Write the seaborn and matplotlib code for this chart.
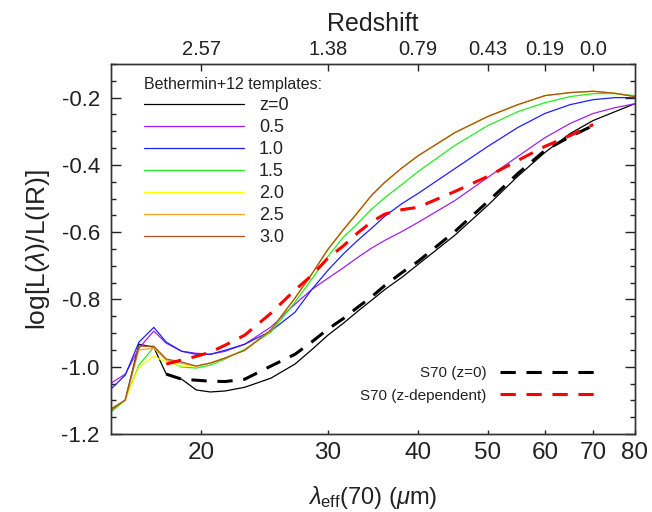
import numpy as np
import pandas as pd
import seaborn as sns
import matplotlib
matplotlib.use("Agg")
import matplotlib.pyplot as plt
from matplotlib.ticker import MultipleLocator, FormatStrFormatter, NullLocator

# ---------------- data ----------------
lam = [15.0, 15.7, 16.4, 17.2, 17.9, 18.8, 19.7, 20.6, 21.6, 23, 25, 27, 28.5, 30,
       31.5, 33, 34.5, 36, 38, 40, 45, 50, 55, 60, 65, 70, 75, 80]

tpl_z00 = [-1.126, -1.099, -0.933, -0.942, -1.022, -1.037, -1.069, -1.075, -1.072,
           -1.061, -1.034, -0.992, -0.949, -0.906, -0.871, -0.835, -0.802, -0.770,
           -0.734, -0.696, -0.609, -0.520, -0.434, -0.363, -0.307, -0.268, -0.242,
           -0.218]
tpl_z05 = [-1.049, -1.022, -0.945, -0.894, -0.930, -0.954, -0.960, -0.963, -0.954,
           -0.933, -0.882, -0.814, -0.770, -0.737, -0.706, -0.675, -0.647, -0.624,
           -0.598, -0.571, -0.506, -0.437, -0.375, -0.319, -0.277, -0.247, -0.230,
           -0.218]
tpl_z10 = [-1.066, -1.025, -0.927, -0.883, -0.927, -0.954, -0.963, -0.963, -0.951,
           -0.933, -0.894, -0.838, -0.770, -0.713, -0.665, -0.624, -0.588, -0.552,
           -0.515, -0.485, -0.411, -0.345, -0.289, -0.247, -0.221, -0.206, -0.200,
           -0.200]
tpl_z15 = [-1.135, -1.099, -0.995, -0.942, -0.980, -1.001, -1.004, -0.995, -0.977,
           -0.948, -0.897, -0.808, -0.739, -0.672, -0.615, -0.574, -0.531, -0.497,
           -0.458, -0.420, -0.342, -0.283, -0.242, -0.215, -0.197, -0.188, -0.188,
           -0.194]
tpl_z20 = [-1.129, -1.099, -1.001, -0.969, -0.986, -0.998, -0.998, -0.989, -0.974,
           -0.951, -0.891, -0.796, -0.724, -0.651, -0.593, -0.541, -0.490, -0.451,
           -0.409, -0.373, -0.304, -0.256, -0.221, -0.194, -0.185, -0.181, -0.187,
           -0.197]
tpl_z25 = [-1.129, -1.099, -0.950, -0.945, -0.980, -0.990, -0.998, -0.989, -0.974,
           -0.951, -0.891, -0.796, -0.724, -0.651, -0.593, -0.541, -0.490, -0.451,
           -0.409, -0.373, -0.304, -0.256, -0.221, -0.194, -0.185, -0.181, -0.187,
           -0.197]
tpl_z30 = [-1.129, -1.099, -0.939, -0.939, -0.977, -0.986, -0.998, -0.989, -0.974,
           -0.951, -0.891, -0.796, -0.724, -0.651, -0.593, -0.541, -0.490, -0.451,
           -0.409, -0.373, -0.304, -0.256, -0.221, -0.194, -0.185, -0.181, -0.187,
           -0.197]

tpl_labels = ["z=0", "0.5", "1.0", "1.5", "2.0", "2.5", "3.0"]
tpl_colors = ["black", "#a020f0", "#1f1fff", "#22ee22", "#ffff00", "#f5a623", "#a5561f"]

lam_s70 = [17.9, 18.8, 19.7, 20.6, 21.6, 23, 25, 27, 28.5, 30, 31.5, 33, 34.5, 36,
           38, 40, 45, 50, 55, 60, 65, 70]
s70_z0 = [-1.022, -1.037, -1.040, -1.043, -1.044, -1.037, -0.998, -0.963, -0.926,
          -0.888, -0.857, -0.823, -0.792, -0.758, -0.720, -0.687, -0.598, -0.509,
          -0.426, -0.357, -0.316, -0.283]
s70_zdep = [-0.992, -0.980, -0.969, -0.957, -0.936, -0.906, -0.841, -0.772, -0.728,
            -0.677, -0.641, -0.602, -0.569, -0.546, -0.533, -0.526, -0.479, -0.434,
            -0.387, -0.345, -0.313, -0.280]

xticks_bottom = [20, 30, 40, 50, 60, 70, 80]
xticks_top = [20, 30, 40, 50, 60, 70]
top_labels = ["2.57", "1.38", "0.79", "0.43", "0.19", "0.0"]

# ---------------- style ----------------
sns.set_style("ticks")
plt.rcParams["font.family"] = ["Liberation Sans", "DejaVu Sans"]
plt.rcParams["mathtext.fontset"] = "custom"
plt.rcParams["mathtext.rm"] = "Liberation Sans"
plt.rcParams["mathtext.it"] = "Liberation Sans:italic"
plt.rcParams["axes.unicode_minus"] = False
txt = "#222222"

fig = plt.figure(figsize=(6.52, 5.12), dpi=100)
ax = fig.add_axes([0.1702, 0.1523, 0.8037, 0.7227])
ax.set_xscale("log")

templates = [tpl_z00, tpl_z05, tpl_z10, tpl_z15, tpl_z20, tpl_z25, tpl_z30]
tpl_lines = []
for vals, lab, col in zip(templates, tpl_labels, tpl_colors):
    df = pd.DataFrame({"lam": lam, "val": vals})
    sns.lineplot(data=df, x="lam", y="val", ax=ax, color=col, linewidth=0.9,
                 label=lab, legend=False)
    tpl_lines.append(ax.get_lines()[-1])

s70_lines = []
for vals, lab, col in [(s70_z0, "S70 (z=0)", "black"),
                       (s70_zdep, "S70 (z-dependent)", "#ff0000")]:
    df = pd.DataFrame({"lam": lam_s70, "val": vals})
    sns.lineplot(data=df, x="lam", y="val", ax=ax, color=col, linewidth=2.2,
                 label=lab, legend=False)
    ln = ax.get_lines()[-1]
    ln.set_dashes((5, 3.5))
    s70_lines.append(ln)

ax.set_ylim(-1.2, -0.1)
ax.set_xlim(15, 80)

# top axis (redshift)
ax2 = ax.twiny()
ax2.set_xscale("log")
ax2.set_xlim(15, 80)
ax2.set_xticks(xticks_top)
ax2.set_xticklabels(top_labels)
ax2.xaxis.set_minor_locator(NullLocator())
ax2.tick_params(axis="x", which="major", direction="in", length=5, width=1,
                labelsize=14.5, pad=3.5, colors=txt)
ax2.set_xlabel("Redshift", fontsize=18, labelpad=6.5, color=txt)

ax.set_xticks(xticks_bottom)
ax.set_xticklabels([str(v) for v in xticks_bottom])
ax.xaxis.set_minor_locator(NullLocator())
ax.tick_params(axis="x", which="major", direction="in", length=3, width=1,
               labelsize=17.5, pad=6, colors=txt, bottom=True, top=False)
ax.yaxis.set_major_locator(MultipleLocator(0.2))
ax.yaxis.set_minor_locator(MultipleLocator(0.05))
ax.yaxis.set_major_formatter(FormatStrFormatter("%.1f"))
ax.tick_params(axis="y", which="major", direction="in", length=7, width=1,
               labelsize=16, pad=8, colors=txt, left=True, right=True)
ax.tick_params(axis="y", which="minor", direction="in", length=3.5, width=1,
               left=True, right=True, colors=txt)

for a in (ax, ax2):
    for sp in a.spines.values():
        sp.set_visible(True)
        sp.set_linewidth(1.0)
        sp.set_color("#333333")

ax.set_xlabel(r"$\lambda_{\rm eff}$(70) ($\mu$m)", fontsize=17, labelpad=14, color=txt)
ax.set_ylabel(r"log[L($\lambda$)/L(IR)]", fontsize=19, labelpad=7, color=txt)

leg1 = ax.legend(handles=tpl_lines, labels=tpl_labels, title="Bethermin+12 templates:",
                 loc="upper left", bbox_to_anchor=(0.063, 0.964), frameon=False,
                 fontsize=13, title_fontsize=11.5, handlelength=5.54, handletextpad=0.83,
                 labelspacing=0.275, borderpad=0, borderaxespad=0, alignment="left")
for t in leg1.get_texts():
    t.set_color(txt)
leg1.get_title().set_color(txt)
ax.add_artist(leg1)

leg2 = ax.legend(handles=s70_lines, labels=["S70 (z=0)", "S70 (z-dependent)"],
                 loc="lower right", bbox_to_anchor=(0.926, 0.085), frameon=False,
                 fontsize=11, handlelength=6.3, handletextpad=0.9, labelspacing=0.55,
                 markerfirst=False, borderpad=0, borderaxespad=0)
for t in leg2.get_texts():
    t.set_color(txt)

fig.savefig("out.png", dpi=100)
